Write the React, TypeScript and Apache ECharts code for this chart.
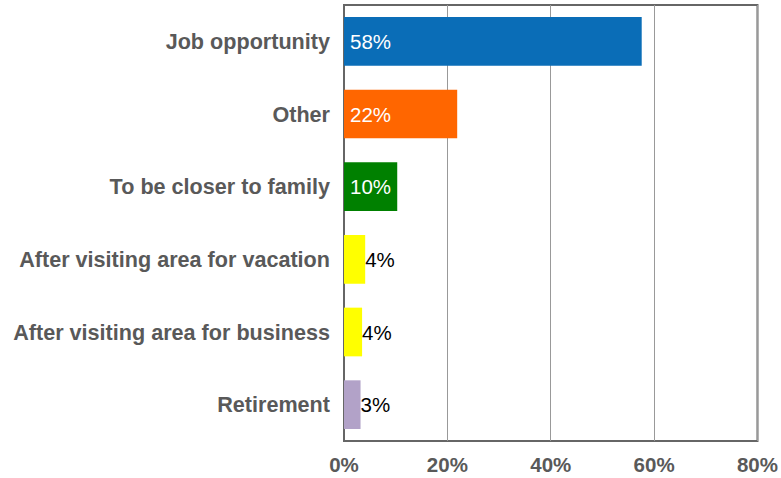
import React, { useEffect, useRef } from "react";
import * as echarts from "echarts";

const categories = [
  "Job opportunity",
  "Other",
  "To be closer to family",
  "After visiting area for vacation",
  "After visiting area for business",
  "Retirement",
];
const values = [57.6, 21.9, 10.3, 4.1, 3.5, 3.2];
const barColors = ["#0A6DB7", "#FF6600", "#008000", "#FFFF00", "#FFFF00", "#B2A2C8"];
const labelInside = [true, true, true, false, false, false];
const xTicks = [0, 20, 40, 60, 80];

const FONT = "'Liberation Sans', Arial, Helvetica, sans-serif";

export default function App() {
  const ref = useRef<HTMLDivElement>(null);
  useEffect(() => {
    if (!ref.current) return;
    const chart = echarts.init(ref.current, undefined, { renderer: "svg" });
    chart.setOption({
      animation: false,
      grid: {
        left: 344,
        right: 22,
        top: 5,
        bottom: 37,
        show: true,
        borderColor: "#666666",
        borderWidth: 2,
        backgroundColor: "transparent",
      },
      xAxis: {
        type: "value",
        min: xTicks[0],
        max: xTicks[xTicks.length - 1],
        interval: 20,
        axisLine: { show: false },
        axisTick: { show: false },
        splitLine: { show: true, lineStyle: { color: "#999999", width: 1 } },
        axisLabel: {
          formatter: (v: number) => `${v}%`,
          color: "#595959",
          fontWeight: "bold",
          fontSize: 20.5,
          fontFamily: FONT,
          margin: 13,
        },
      },
      yAxis: {
        type: "category",
        data: categories,
        inverse: true,
        axisLine: { show: true, lineStyle: { color: "#666666", width: 2 } },
        axisTick: { show: false },
        splitLine: { show: false },
        axisLabel: {
          color: "#595959",
          fontWeight: "bold",
          fontSize: 21.6,
          fontFamily: FONT,
          margin: 14,
        },
      },
      series: [
        {
          type: "bar",
          barCategoryGap: "33%",
          data: values.map((v, i) => ({
            value: v,
            itemStyle: { color: barColors[i] },
            label: labelInside[i]
              ? { position: "insideLeft", distance: 6, color: "#ffffff" }
              : { position: "right", distance: 0, color: "#000000" },
          })),
          label: {
            show: true,
            fontSize: 20.5,
            fontFamily: FONT,
            formatter: (p: any) => `${Math.round(p.value)}%`,
          },
        },
      ],
    });
    return () => chart.dispose();
  }, []);
  return (
    <div
      ref={ref}
      style={{ position: "absolute", left: 0, top: 0, width: 781, height: 478, background: "#ffffff" }}
    />
  );
}
